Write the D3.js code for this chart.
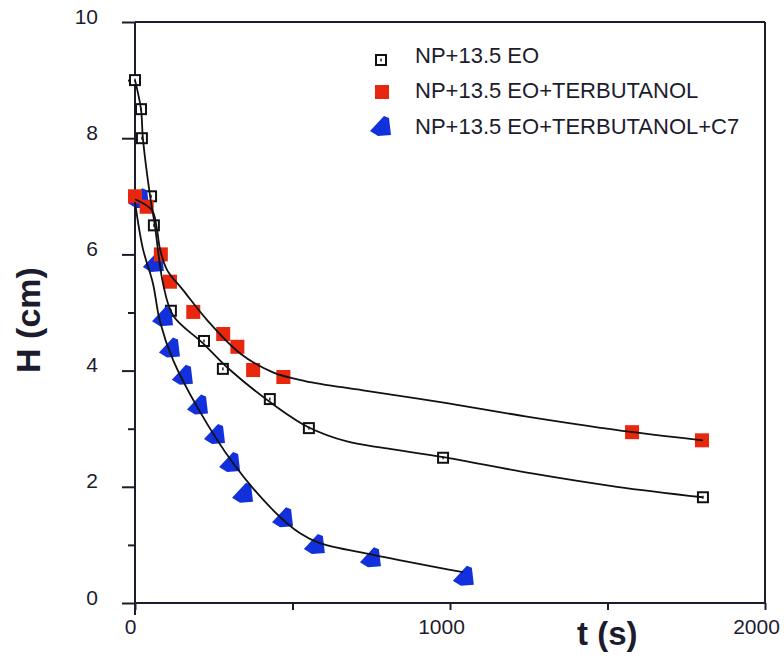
<!DOCTYPE html>
<html>
<head>
<meta charset="utf-8">
<script src="https://cdn.jsdelivr.net/npm/d3@7"></script>
<style>
  html, body { margin: 0; padding: 0; background: #fff; }
  svg { display: block; }
  text { font-family: "Liberation Sans", Arial, Helvetica, sans-serif; }
</style>
</head>
<body>
<svg id="chart" width="784" height="664"></svg>
<script>
// ---- data (t in s, H in cm) ----
const seriesNames = ["NP+13.5 EO", "NP+13.5 EO+TERBUTANOL", "NP+13.5 EO+TERBUTANOL+C7"];

const eoPoints = [[0,9.0],[19,8.5],[22,8.0],[51,7.0],[60,6.5],[114,5.03],[219,4.51],[279,4.03],[428,3.51],[552,3.01],[978,2.50],[1803,1.82]];
const terbPoints = [[0,7.0],[37,6.82],[82,6.0],[111,5.53],[185,5.01],[280,4.63],[325,4.41],[375,4.01],[471,3.89],[1578,2.94],[1800,2.80]];
const c7Points = [[13,6.95],[60,5.85],[89,4.92],[111,4.38],[152,3.91],[200,3.40],[254,2.89],[302,2.41],[343,1.88],[470,1.46],[571,1.0],[749,0.77],[1044,0.45]];

const eoFit = [[0,9.0],[19,8.5],[25,8.0],[48,7.0],[63,6.5],[89,5.5],[121,4.95],[216,4.47],[302,4.01],[451,3.37],[549,3.03],[673,2.78],[800,2.66],[978,2.51],[1260,2.23],[1530,2.0],[1803,1.82]];
const terbFit = [[0,6.95],[54,6.76],[70,6.42],[79,6.1],[102,5.73],[152,5.39],[229,4.87],[333,4.30],[438,3.97],[540,3.82],[724,3.66],[990,3.44],[1254,3.20],[1581,2.94],[1803,2.80]];
const c7Fit = [[0,6.9],[25,6.1],[57,5.5],[79,4.85],[121,4.18],[200,3.35],[311,2.41],[438,1.60],[524,1.20],[587,1.03],[756,0.83],[1041,0.53]];

const yMajorTicks = [0,2,4,6,8,10];
const yMinorTicks = [1,3,5,7,9];
const xTickValues = [0,500,1000,1500,2000];
const xTickLabels = ["0","","1000","","2000"];

// ---- layout ----
const svg = d3.select("#chart");
const x = d3.scaleLinear().domain([0,2000]).range([135,765]);
const y = d3.scaleLinear().domain([0,10]).range([603,22]);
const ink = "#1c1c2e";

// frame
const frame = svg.append("g").attr("stroke", ink).attr("stroke-width", 2).attr("fill", "none");
frame.append("line").attr("x1", x(0)).attr("x2", x(0)).attr("y1", y(10)).attr("y2", y(0) + 12);
frame.append("line").attr("x1", x(0)).attr("x2", x(2000)).attr("y1", y(0)).attr("y2", y(0));
frame.append("line").attr("x1", x(0)).attr("x2", x(2000)).attr("y1", y(10)).attr("y2", y(10));
frame.append("line").attr("x1", x(2000)).attr("x2", x(2000)).attr("y1", y(10)).attr("y2", y(0));

// y axis major
const yAxisMajor = svg.append("g").attr("transform", `translate(${x(0)},0)`)
  .call(d3.axisLeft(y).tickValues(yMajorTicks).tickSize(13).tickPadding(24).tickFormat(d3.format("d")));
yAxisMajor.select(".domain").remove();
yAxisMajor.selectAll(".tick line").attr("stroke", ink).attr("stroke-width", 2);
yAxisMajor.selectAll(".tick text").attr("fill", ink).attr("font-size", 21).attr("dy", "0.05em");

// y axis minor
const yAxisMinor = svg.append("g").attr("transform", `translate(${x(0)},0)`)
  .call(d3.axisLeft(y).tickValues(yMinorTicks).tickSize(7).tickFormat(""));
yAxisMinor.select(".domain").remove();
yAxisMinor.selectAll(".tick line").attr("stroke", ink).attr("stroke-width", 2);

// x axis
const xAxis = svg.append("g").attr("transform", `translate(0,${y(0)})`)
  .call(d3.axisBottom(x).tickValues(xTickValues).tickSize(7).tickPadding(9)
    .tickFormat((d, i) => xTickLabels[i]));
xAxis.select(".domain").remove();
xAxis.selectAll(".tick line").attr("stroke", ink).attr("stroke-width", 2);
xAxis.selectAll(".tick text").attr("fill", ink).attr("font-size", 21).attr("dx", d => d === 0 ? -5 : -9);

// axis titles
svg.append("text").attr("x", 577).attr("y", 645).attr("font-size", 33).attr("font-weight", "bold")
  .attr("fill", ink).text("t (s)");
svg.append("text").attr("transform", "translate(40,320) rotate(-90)").attr("text-anchor", "middle")
  .attr("font-size", 34).attr("font-weight", "bold").attr("fill", ink).text("H (cm)");

// marker drawing helpers
const red = "#e8270e", blue = "#1230dc";
const triPath = "M-11,4 L3,-11 L8,-9 L10,8 L-3,9 Z";

function drawOpenSquare(g, cx, cy) {
  g.append("rect").attr("x", cx - 5).attr("y", cy - 5).attr("width", 10).attr("height", 10)
    .attr("fill", "#fff").attr("stroke", "#111").attr("stroke-width", 2);
  g.append("rect").attr("x", cx - 0.8).attr("y", cy - 1.5).attr("width", 1.6).attr("height", 3).attr("fill", "#333");
}
function drawRedSquare(g, cx, cy) {
  g.append("rect").attr("x", cx - 7).attr("y", cy - 7).attr("width", 14).attr("height", 14).attr("fill", red);
}
function drawBlue(g, cx, cy) {
  g.append("path").attr("d", triPath).attr("transform", `translate(${cx},${cy})`).attr("fill", blue);
}

// markers
const mk = svg.append("g");
eoPoints.forEach(d => drawOpenSquare(mk, x(d[0]), y(d[1])));
c7Points.forEach(d => drawBlue(mk, x(d[0]), y(d[1])));
terbPoints.forEach(d => drawRedSquare(mk, x(d[0]), y(d[1])));

// fit curves
const line = d3.line().x(d => x(d[0])).y(d => y(d[1])).curve(d3.curveCatmullRom.alpha(0.5));
[eoFit, terbFit, c7Fit].forEach(f => {
  svg.append("path").attr("d", line(f)).attr("fill", "none").attr("stroke", "#111").attr("stroke-width", 1.8);
});

// legend
const legendY = [60, 92, 127];
const legendBase = [63, 98, 134];
const lg = svg.append("g");
drawOpenSquare(lg, 381, legendY[0]);
drawRedSquare(lg, 382, legendY[1]);
drawBlue(lg, 381, legendY[2]);
seriesNames.forEach((n, i) => {
  lg.append("text").attr("x", 415).attr("y", legendBase[i]).attr("font-size", 22).attr("fill", ink).text(n);
});
</script>
</body>
</html>
